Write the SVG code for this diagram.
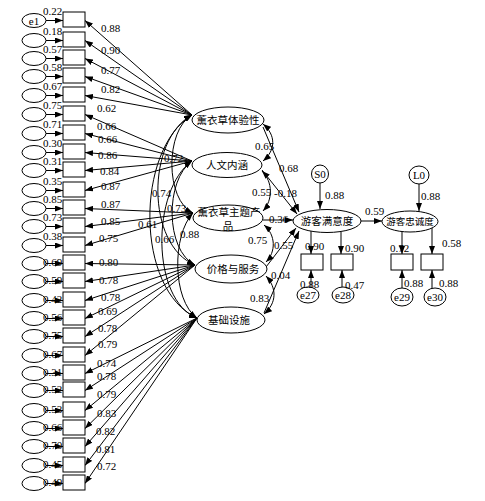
<svg xmlns="http://www.w3.org/2000/svg" width="485" height="501" viewBox="0 0 485 501">
<style>
.box{fill:#fff;stroke:#000;stroke-width:1}
.ell{fill:#fff;stroke:#000;stroke-width:1}
.ln{fill:none;stroke:#000;stroke-width:1;marker-end:url(#ah)}
.dbl{fill:none;stroke:#000;stroke-width:1;marker-start:url(#ah);marker-end:url(#ah)}
.num{font-family:"Liberation Serif",serif;font-size:11px;fill:#000}
.cn{font-family:"Noto Sans CJK SC","Noto Sans CJK TC",sans-serif;font-size:10.5px;fill:#000;text-anchor:middle}
.cns{font-size:9.5px}
</style>
<defs>
<marker id="ah" markerWidth="8" markerHeight="6" refX="8" refY="3" orient="auto-start-reverse" markerUnits="userSpaceOnUse"><path d="M0,0 L8,3 L0,6 z" fill="#000"/></marker>
</defs>
<rect width="485" height="501" fill="#fff"/>
<g id="connectors">
<line class="ln" x1="46" y1="20.5" x2="63" y2="20.5"/>
<line class="ln" x1="46" y1="40.5" x2="63" y2="40.5"/>
<line class="ln" x1="46" y1="58.5" x2="63" y2="58.5"/>
<line class="ln" x1="46" y1="76.5" x2="63" y2="76.5"/>
<line class="ln" x1="46" y1="95.5" x2="63" y2="95.5"/>
<line class="ln" x1="46" y1="114.5" x2="63" y2="114.5"/>
<line class="ln" x1="46" y1="133.5" x2="63" y2="133.5"/>
<line class="ln" x1="46" y1="152.5" x2="63" y2="152.5"/>
<line class="ln" x1="46" y1="170.5" x2="63" y2="170.5"/>
<line class="ln" x1="46" y1="190.5" x2="63" y2="190.5"/>
<line class="ln" x1="46" y1="208.5" x2="63" y2="208.5"/>
<line class="ln" x1="46" y1="226.5" x2="63" y2="226.5"/>
<line class="ln" x1="46" y1="245.5" x2="63" y2="245.5"/>
<line class="ln" x1="46" y1="263.5" x2="63" y2="263.5"/>
<line class="ln" x1="46" y1="281.5" x2="63" y2="281.5"/>
<line class="ln" x1="46" y1="300.5" x2="63" y2="300.5"/>
<line class="ln" x1="46" y1="318.5" x2="63" y2="318.5"/>
<line class="ln" x1="46" y1="336.5" x2="63" y2="336.5"/>
<line class="ln" x1="46" y1="355.5" x2="63" y2="355.5"/>
<line class="ln" x1="46" y1="373.5" x2="63" y2="373.5"/>
<line class="ln" x1="46" y1="390.5" x2="63" y2="390.5"/>
<line class="ln" x1="46" y1="410.5" x2="63" y2="410.5"/>
<line class="ln" x1="46" y1="428.5" x2="63" y2="428.5"/>
<line class="ln" x1="46" y1="446.5" x2="63" y2="446.5"/>
<line class="ln" x1="46" y1="465.5" x2="63" y2="465.5"/>
<line class="ln" x1="46" y1="483.5" x2="63" y2="483.5"/>
<line class="ln" x1="192" y1="115" x2="85" y2="20.5"/>
<line class="ln" x1="192" y1="115" x2="85" y2="40.5"/>
<line class="ln" x1="192" y1="115" x2="85" y2="58.5"/>
<line class="ln" x1="192" y1="115" x2="85" y2="76.5"/>
<line class="ln" x1="192" y1="115" x2="85" y2="95.5"/>
<line class="ln" x1="192" y1="161" x2="85" y2="114.5"/>
<line class="ln" x1="192" y1="161" x2="85" y2="133.5"/>
<line class="ln" x1="192" y1="161" x2="85" y2="152.5"/>
<line class="ln" x1="192" y1="161" x2="85" y2="170.5"/>
<line class="ln" x1="192" y1="161" x2="85" y2="190.5"/>
<line class="ln" x1="193" y1="213" x2="85" y2="208.5"/>
<line class="ln" x1="193" y1="213" x2="85" y2="226.5"/>
<line class="ln" x1="193" y1="213" x2="85" y2="245.5"/>
<line class="ln" x1="195" y1="265" x2="85" y2="263.5"/>
<line class="ln" x1="195" y1="265" x2="85" y2="281.5"/>
<line class="ln" x1="195" y1="265" x2="85" y2="300.5"/>
<line class="ln" x1="195" y1="265" x2="85" y2="318.5"/>
<line class="ln" x1="195" y1="265" x2="85" y2="336.5"/>
<line class="ln" x1="195" y1="265" x2="85" y2="355.5"/>
<line class="ln" x1="197" y1="318" x2="85" y2="373.5"/>
<line class="ln" x1="197" y1="318" x2="85" y2="390.5"/>
<line class="ln" x1="197" y1="318" x2="85" y2="410.5"/>
<line class="ln" x1="197" y1="318" x2="85" y2="428.5"/>
<line class="ln" x1="197" y1="318" x2="85" y2="446.5"/>
<line class="ln" x1="197" y1="318" x2="85" y2="465.5"/>
<line class="ln" x1="197" y1="318" x2="85" y2="483.5"/>
<path class="dbl" d="M192,115 C165,130 165,200 193,213"/>
<path class="dbl" d="M192,115 C146,140 146,245 195,265"/>
<path class="dbl" d="M192,161 C165,180 165,250 195,265"/>
<path class="dbl" d="M192,115 C135,150 135,290 197,318"/>
<path class="dbl" d="M192,161 C151,190 151,300 197,318"/>
<path class="dbl" d="M193,213 C172,235 172,300 197,318"/>
<path class="dbl" d="M263,124 C276,135 276,150 263,161"/>
<path class="dbl" d="M262,171 C273,182 273,200 263,211"/>
<path class="dbl" d="M264,225 C276,235 276,252 266,262"/>
<path class="dbl" d="M266,276 C277,288 277,303 264,314"/>
<line class="ln" x1="263" y1="127" x2="299" y2="212"/>
<line class="ln" x1="262" y1="170" x2="297" y2="214"/>
<line class="ln" x1="263" y1="220" x2="293" y2="220"/>
<line class="ln" x1="266" y1="267" x2="296" y2="228"/>
<line class="ln" x1="264" y1="313" x2="299" y2="231"/>
<line class="ln" x1="320" y1="183" x2="320" y2="209"/>
<line class="ln" x1="419" y1="184" x2="419" y2="211"/>
<line class="ln" x1="361" y1="221" x2="382" y2="221"/>
<line class="ln" x1="311" y1="231" x2="311" y2="254"/>
<line class="ln" x1="341" y1="232" x2="341" y2="254"/>
<line class="ln" x1="402" y1="231" x2="402" y2="254"/>
<line class="ln" x1="432" y1="228" x2="432" y2="254"/>
<line class="ln" x1="311" y1="287" x2="311" y2="270"/>
<line class="ln" x1="342" y1="287" x2="342" y2="270"/>
<line class="ln" x1="402" y1="288" x2="402" y2="270"/>
<line class="ln" x1="432" y1="288" x2="432" y2="270"/>
</g>
<g id="errors">
<ellipse class="ell" cx="34" cy="20.5" rx="12" ry="7"/>
<ellipse class="ell" cx="34" cy="40.5" rx="12" ry="7"/>
<ellipse class="ell" cx="34" cy="58.5" rx="12" ry="7"/>
<ellipse class="ell" cx="34" cy="76.5" rx="12" ry="7"/>
<ellipse class="ell" cx="34" cy="95.5" rx="12" ry="7"/>
<ellipse class="ell" cx="34" cy="114.5" rx="12" ry="7"/>
<ellipse class="ell" cx="34" cy="133.5" rx="12" ry="7"/>
<ellipse class="ell" cx="34" cy="152.5" rx="12" ry="7"/>
<ellipse class="ell" cx="34" cy="170.5" rx="12" ry="7"/>
<ellipse class="ell" cx="34" cy="190.5" rx="12" ry="7"/>
<ellipse class="ell" cx="34" cy="208.5" rx="12" ry="7"/>
<ellipse class="ell" cx="34" cy="226.5" rx="12" ry="7"/>
<ellipse class="ell" cx="34" cy="245.5" rx="12" ry="7"/>
<ellipse class="ell" cx="34" cy="263.5" rx="12" ry="7"/>
<ellipse class="ell" cx="34" cy="281.5" rx="12" ry="7"/>
<ellipse class="ell" cx="34" cy="300.5" rx="12" ry="7"/>
<ellipse class="ell" cx="34" cy="318.5" rx="12" ry="7"/>
<ellipse class="ell" cx="34" cy="336.5" rx="12" ry="7"/>
<ellipse class="ell" cx="34" cy="355.5" rx="12" ry="7"/>
<ellipse class="ell" cx="34" cy="373.5" rx="12" ry="7"/>
<ellipse class="ell" cx="34" cy="390.5" rx="12" ry="7"/>
<ellipse class="ell" cx="34" cy="410.5" rx="12" ry="7"/>
<ellipse class="ell" cx="34" cy="428.5" rx="12" ry="7"/>
<ellipse class="ell" cx="34" cy="446.5" rx="12" ry="7"/>
<ellipse class="ell" cx="34" cy="465.5" rx="12" ry="7"/>
<ellipse class="ell" cx="34" cy="483.5" rx="12" ry="7"/>
<text class="num" x="34" y="24.5" text-anchor="middle">e1</text>
</g>
<g id="indicators">
<rect class="box" x="63" y="12" width="22" height="15"/>
<rect class="box" x="63" y="32" width="22" height="15"/>
<rect class="box" x="63" y="50" width="22" height="15"/>
<rect class="box" x="63" y="68" width="22" height="15"/>
<rect class="box" x="63" y="87" width="22" height="15"/>
<rect class="box" x="63" y="106" width="22" height="15"/>
<rect class="box" x="63" y="125" width="22" height="15"/>
<rect class="box" x="63" y="144" width="22" height="15"/>
<rect class="box" x="63" y="162" width="22" height="15"/>
<rect class="box" x="63" y="182" width="22" height="15"/>
<rect class="box" x="63" y="200" width="22" height="15"/>
<rect class="box" x="63" y="218" width="22" height="15"/>
<rect class="box" x="63" y="237" width="22" height="15"/>
<rect class="box" x="63" y="255" width="22" height="15"/>
<rect class="box" x="63" y="273" width="22" height="15"/>
<rect class="box" x="63" y="292" width="22" height="15"/>
<rect class="box" x="63" y="310" width="22" height="15"/>
<rect class="box" x="63" y="328" width="22" height="15"/>
<rect class="box" x="63" y="347" width="22" height="15"/>
<rect class="box" x="63" y="365" width="22" height="15"/>
<rect class="box" x="63" y="382" width="22" height="15"/>
<rect class="box" x="63" y="402" width="22" height="15"/>
<rect class="box" x="63" y="420" width="22" height="15"/>
<rect class="box" x="63" y="438" width="22" height="15"/>
<rect class="box" x="63" y="457" width="22" height="15"/>
<rect class="box" x="63" y="475" width="22" height="15"/>
</g>
<g id="F1"><ellipse class="ell" cx="228" cy="120" rx="36" ry="13"/><text class="cn" x="228" y="124">薰衣草体验性</text></g>
<g id="F2"><ellipse class="ell" cx="227" cy="165" rx="35" ry="12.5"/><text class="cn" x="227" y="169">人文内涵</text></g>
<g id="F3"><ellipse class="ell" cx="228" cy="218" rx="35" ry="13"/><text class="cn" x="229" y="216">薰衣草主题产</text><text class="cn" x="228" y="229.5">品</text></g>
<g id="F4"><ellipse class="ell" cx="231" cy="269" rx="36" ry="14"/><text class="cn" x="233" y="273">价格与服务</text></g>
<g id="F5"><ellipse class="ell" cx="231" cy="320" rx="34" ry="13"/><text class="cn" x="229" y="324">基础设施</text></g>
<g id="S"><ellipse class="ell" cx="327" cy="221" rx="34" ry="11.5"/><text class="cn" x="327" y="225">游客满意度</text></g>
<g id="L"><ellipse class="ell" cx="410" cy="221.5" rx="28" ry="10.5"/><text class="cn cns" x="410" y="225">游客忠诚度</text></g>
<g id="S0"><ellipse class="ell" cx="320" cy="174" rx="8.5" ry="9"/><text class="num" x="320" y="178" text-anchor="middle">S0</text></g>
<g id="L0"><ellipse class="ell" cx="419" cy="175" rx="10" ry="9"/><text class="num" x="419" y="179" text-anchor="middle">L0</text></g>
<g id="y1"><rect class="box" x="301" y="254" width="22" height="16"/></g>
<g id="y2"><rect class="box" x="331" y="254" width="22" height="16"/></g>
<g id="y3"><rect class="box" x="391" y="254" width="22" height="16"/></g>
<g id="y4"><rect class="box" x="421" y="254" width="22" height="16"/></g>
<g id="e27"><ellipse class="ell" cx="308" cy="295" rx="11" ry="8"/><text class="num" x="308" y="299" text-anchor="middle">e27</text></g>
<g id="e28"><ellipse class="ell" cx="343" cy="295" rx="11" ry="8"/><text class="num" x="343" y="299" text-anchor="middle">e28</text></g>
<g id="e29"><ellipse class="ell" cx="402" cy="297" rx="11" ry="9"/><text class="num" x="402" y="301" text-anchor="middle">e29</text></g>
<g id="e30"><ellipse class="ell" cx="435" cy="297" rx="11" ry="9"/><text class="num" x="435" y="301" text-anchor="middle">e30</text></g>
<g id="labels" class="num">
<text x="43" y="15">0.22</text><text x="43" y="35">0.18</text><text x="43" y="53">0.57</text><text x="43" y="71">0.58</text>
<text x="43" y="90">0.67</text><text x="43" y="109">0.75</text><text x="43" y="128">0.71</text><text x="43" y="147">0.30</text>
<text x="43" y="165">0.31</text><text x="43" y="185">0.35</text><text x="43" y="203">0.85</text><text x="43" y="221">0.73</text>
<text x="43" y="240">0.38</text><text x="43" y="266">0.69</text><text x="43" y="284">0.59</text><text x="43" y="303">0.42</text>
<text x="43" y="321">0.56</text><text x="43" y="339">0.75</text><text x="43" y="358">0.67</text><text x="43" y="376">0.31</text>
<text x="43" y="393">0.52</text><text x="43" y="413">0.53</text><text x="43" y="431">0.66</text><text x="43" y="449">0.70</text>
<text x="43" y="468">0.45</text><text x="43" y="486">0.49</text>
<text x="101" y="32">0.88</text><text x="101" y="54">0.90</text><text x="101" y="74">0.77</text><text x="101" y="93">0.82</text>
<text x="97" y="112">0.62</text><text x="97" y="130">0.66</text><text x="98" y="143">0.66</text><text x="98" y="159">0.86</text>
<text x="100" y="175">0.84</text><text x="101" y="190">0.87</text><text x="101" y="208">0.87</text><text x="101" y="225">0.85</text>
<text x="99" y="242">0.75</text><text x="99" y="266">0.80</text><text x="99" y="284">0.78</text><text x="101" y="301">0.78</text>
<text x="98" y="315">0.69</text><text x="98" y="332">0.78</text><text x="98" y="348">0.79</text><text x="97" y="367">0.74</text>
<text x="97" y="380">0.78</text><text x="97" y="398">0.79</text><text x="97" y="417">0.83</text><text x="96" y="435">0.82</text>
<text x="96" y="453">0.81</text><text x="97" y="470">0.72</text>
<text x="164" y="162">0.72</text><text x="152" y="197">0.74</text><text x="167" y="212">0.73</text>
<text x="138" y="228">0.61</text><text x="155" y="243">0.66</text><text x="180" y="238">0.88</text>
<text x="255" y="150">0.65</text><text x="252" y="196">0.55</text><text x="248" y="244">0.75</text><text x="250" y="302">0.83</text>
<text x="279" y="172">0.68</text><text x="274" y="197">-0.18</text><text x="269" y="223">0.36</text><text x="274" y="249">0.55</text><text x="271" y="279">0.04</text>
<text x="325" y="199">0.88</text><text x="421" y="200">0.88</text><text x="365" y="215">0.59</text>
<text x="305" y="250">0.90</text><text x="345" y="252">0.90</text><text x="390" y="252">0.72</text><text x="442" y="247">0.58</text>
<text x="300" y="288">0.88</text><text x="345" y="289">0.47</text><text x="404" y="287">0.88</text><text x="439" y="287">0.88</text>
</g>
</svg>
